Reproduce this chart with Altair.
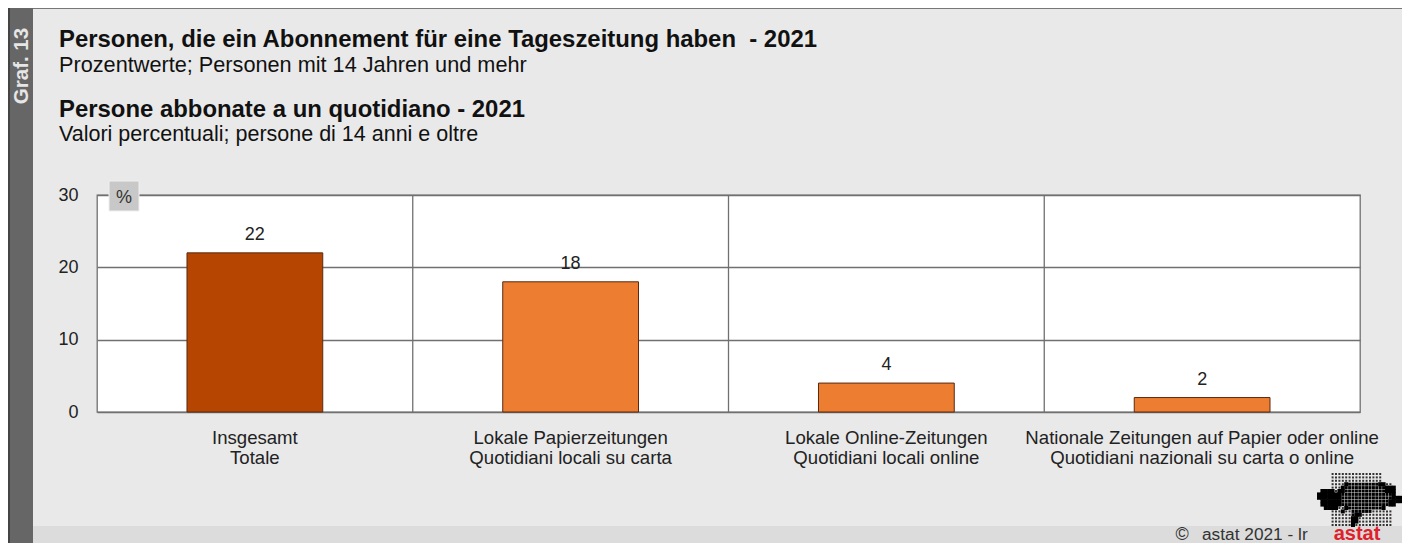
import altair as alt
import pandas as pd

categories = ["Insgesamt|Totale",
              "Lokale Papierzeitungen|Quotidiani locali su carta",
              "Lokale Online-Zeitungen|Quotidiani locali online",
              "Nationale Zeitungen auf Papier oder online|Quotidiani nazionali su carta o online"]
values = [22, 18, 4, 2]
bar_colors = ["#b54500", "#ed7d31", "#ed7d31", "#ed7d31"]
y_ticks = [0, 10, 20, 30]
separators = [1, 2, 3]

FONT = "Liberation Sans"
PL, PT = 89, 187          # plot origin inside the svg (page offset 8 is added below)
W, H = 1263, 217
LINE = "#707070"

def px(x): return x - 8 - PL
def py(y): return y - 8 - PT

# logo bitmap: '#' = solid black dot, 'o' = separated black dot, '.' = small dot
logo_rows = [
    "    ...............     ",
    "    ...............     ",
    "    ...............     ",
    "    ....#ooooooooo##..  ",
    "    ...#oooooooooooo### ",
    " ####.##oooooooooooo### ",
    "#######ooooooooooooooo# ",
    "#######ooooooooooooooo###",
    " ######oooooooooooooo####",
    " ######oooooooooooooo## ",
    "  ####..#oooooooooo#    ",
    "    ...#..oooooo......  ",
    "    ......o##.........  ",
    "    ......##..........  ",
    "    ......##..........  ",
    "    ......#...........  ",
]
logo = []
for r, row in enumerate(logo_rows):
    for c, ch in enumerate(row):
        if ch != " ":
            logo.append({"lx": px(1319 + 3.4 * c), "ly": py(474 + 3.4 * r), "k": ch})
logo_df = pd.DataFrame(logo)

df = pd.DataFrame({"cat": categories, "v": values, "col": bar_colors})
band = alt.Scale(paddingInner=0.57, paddingOuter=0.285)
value_scale = alt.Scale(domain=[0, 30])
x_enc = alt.X("cat:N", sort=categories, title=None, scale=band,
              axis=alt.Axis(labelExpr="split(datum.label, '|')", labelAngle=0, labelFont=FONT,
                            labelFontSize=18.6, labelColor="#222222", labelLineHeight=20,
                            labelPadding=16, tickSize=0, domain=False, grid=False, labelLimit=400))
y_enc = alt.Y("v:Q", title=None, scale=value_scale,
              axis=alt.Axis(values=y_ticks, labelFont=FONT, labelFontSize=18, labelColor="#222222",
                            labelPadding=19, tickSize=0, domain=False, grid=True,
                            gridColor=LINE, gridWidth=1.3, gridOpacity=1))

def rect(x0, x1, y0, y1, fill, **kw):
    return alt.Chart(pd.DataFrame({"a": [0]})).mark_rect(fill=fill, **kw).encode(
        x=alt.value(px(x0)), x2=alt.value(px(x1)), y=alt.value(py(y0)), y2=alt.value(py(y1)))

def text(t, x, y, size, weight="normal", color="#111111", **kw):
    return alt.Chart(pd.DataFrame({"t": [t]})).mark_text(
        font=FONT, fontSize=size, fontWeight=weight, color=color, align=kw.pop("align", "left"),
        baseline="alphabetic", **kw).encode(x=alt.value(px(x)), y=alt.value(py(y)), text="t:N")

seps = alt.Chart(pd.DataFrame({"s": separators})).mark_rule(color=LINE, strokeWidth=1.3).encode(
    x=alt.X("s:Q", scale=alt.Scale(domain=[0, 4]), axis=None))
bars = alt.Chart(df).mark_bar(stroke="#5a2a10", strokeWidth=1).encode(
    x=x_enc, y=y_enc, fill=alt.Fill("col:N", scale=None))
labels = alt.Chart(df).mark_text(font=FONT, fontSize=18, color="#222222", dy=-18, baseline="middle").encode(
    x=alt.X("cat:N", sort=categories, scale=band, axis=None),
    y=alt.Y("v:Q", scale=value_scale, axis=None), text="v:Q")

def logo_layer(kind, size, color):
    return alt.Chart(logo_df[logo_df.k == kind]).mark_square(color=color, size=size, opacity=1).encode(
        x=alt.X("lx:Q", scale=None), y=alt.Y("ly:Q", scale=None))

chart = alt.layer(
    seps, bars, labels,
    rect(8, 1402, 8, 9, "#777777"),
    rect(8, 33, 8, 544, "#666666"),
    rect(8, 10, 8, 544, "#444444"),
    rect(33, 1402, 526, 544, "#dcdcdc"),
    rect(109, 139, 181, 211, "#c8c8c8", stroke="#efefef", strokeWidth=1),
    text("%", 124, 203, 18, color="#333333", align="center"),
    text("Personen, die ein Abonnement für eine Tageszeitung haben\u00a0 - 2021", 59, 47, 23.9, "bold"),
    text("Prozentwerte; Personen mit 14 Jahren und mehr", 59, 72, 21.7),
    text("Persone abbonate a un quotidiano - 2021", 59, 117, 23.9, "bold"),
    text("Valori percentuali; persone di 14 anni e oltre", 59, 141, 21.5),
    text("Graf. 13", 28, 66, 20.5, "bold", color="#e6e6e6", align="center", angle=270),
    text("©", 1182, 540, 18, color="#333333", align="center"),
    text("astat 2021 - lr", 1202, 540, 17.3, color="#333333"),
    logo_layer(".", 4, "#333333"), logo_layer("o", 9, "#000000"), logo_layer("#", 16, "#000000"),
    text("astat", 1357, 539.5, 20, "bold", color="#e0202a", align="center"),
).resolve_scale(x="independent", y="independent").properties(
    width=W, height=H, background="#e9e9e9",
    padding={"left": PL, "top": PT, "right": 42, "bottom": 131},
    autosize=alt.AutoSizeParams(type="none"),
).configure_view(fill="#ffffff", stroke=LINE, strokeWidth=1.3)

chart.save("out.html", embed_options={"renderer": "svg", "actions": False})
